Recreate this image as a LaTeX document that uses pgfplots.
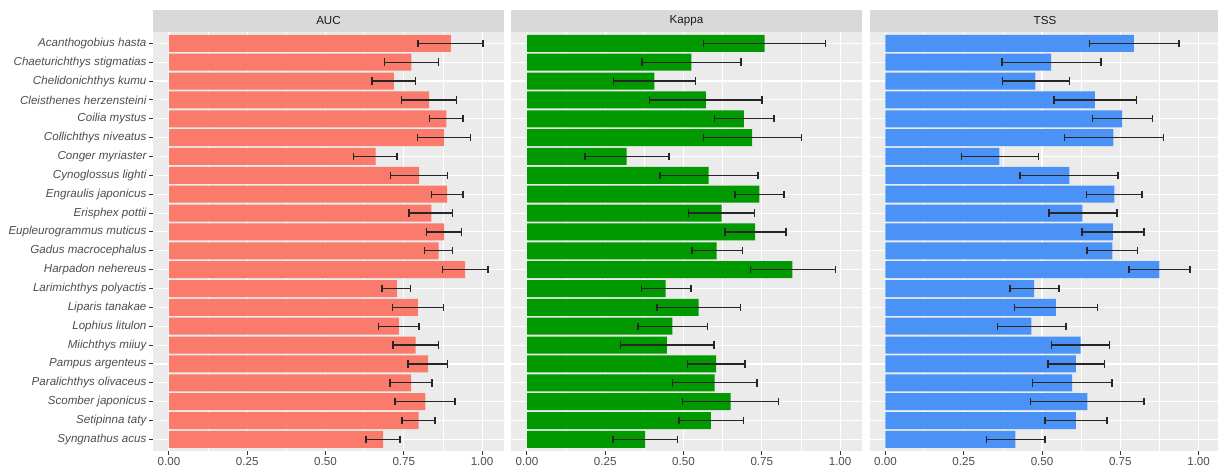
\documentclass[border=0pt]{standalone}
\usepackage{pgfplots}
\pgfplotsset{compat=1.18}
\usepackage{pgfplotstable}
\usepackage{fontspec}
\setmainfont{Liberation Sans}

\definecolor{panelbg}{HTML}{EBEBEB}
\definecolor{stripbg}{HTML}{D9D9D9}
\definecolor{gray30}{HTML}{4D4D4D}
\definecolor{gray20}{HTML}{333333}
\definecolor{gray10}{HTML}{1A1A1A}
\definecolor{aucfill}{HTML}{FA7B6B}
\definecolor{kapfill}{HTML}{009900}
\definecolor{tssfill}{HTML}{4A92F5}
\newcommand{\lbl}{\fontsize{11.6}{13.9}\selectfont}

% idx = species (1 = top), val = mean score, lo/hi = error bar ends
\pgfplotstableread{
idx val lo hi
1 0.900 0.795 1.003
2 0.774 0.689 0.861
3 0.718 0.648 0.788
4 0.831 0.743 0.919
5 0.886 0.832 0.939
6 0.878 0.793 0.963
7 0.660 0.590 0.728
8 0.799 0.707 0.890
9 0.888 0.838 0.939
10 0.838 0.767 0.906
11 0.879 0.822 0.934
12 0.861 0.816 0.906
13 0.946 0.873 1.019
14 0.728 0.681 0.771
15 0.795 0.714 0.877
16 0.734 0.669 0.798
17 0.788 0.716 0.861
18 0.828 0.764 0.890
19 0.773 0.706 0.840
20 0.819 0.722 0.914
21 0.797 0.745 0.849
22 0.684 0.630 0.738
}\auctab

\pgfplotstableread{
idx val lo hi
1 0.759 0.564 0.954
2 0.525 0.367 0.683
3 0.407 0.276 0.539
4 0.571 0.391 0.751
5 0.693 0.599 0.789
6 0.719 0.563 0.877
7 0.318 0.185 0.453
8 0.580 0.425 0.738
9 0.742 0.664 0.821
10 0.622 0.516 0.727
11 0.729 0.633 0.827
12 0.606 0.527 0.688
13 0.848 0.714 0.985
14 0.443 0.365 0.524
15 0.548 0.416 0.682
16 0.464 0.355 0.576
17 0.447 0.299 0.597
18 0.604 0.512 0.696
19 0.599 0.465 0.734
20 0.650 0.497 0.803
21 0.587 0.485 0.691
22 0.377 0.274 0.481
}\kaptab

\pgfplotstableread{
idx val lo hi
1 0.793 0.652 0.937
2 0.529 0.372 0.689
3 0.479 0.374 0.587
4 0.669 0.538 0.801
5 0.756 0.661 0.852
6 0.728 0.571 0.888
7 0.364 0.242 0.489
8 0.587 0.430 0.743
9 0.731 0.642 0.819
10 0.629 0.523 0.739
11 0.726 0.628 0.826
12 0.725 0.644 0.805
13 0.875 0.777 0.973
14 0.475 0.397 0.554
15 0.544 0.412 0.677
16 0.466 0.358 0.576
17 0.623 0.531 0.716
18 0.608 0.519 0.700
19 0.596 0.470 0.724
20 0.645 0.463 0.826
21 0.608 0.510 0.707
22 0.415 0.323 0.510
}\tsstab

\pgfplotsset{
  panel/.style={
    scale only axis, width=351pt, height=418.7pt,
    xmin=-0.051, xmax=1.070, ymin=0.4, ymax=22.6, y dir=reverse,
    axis background/.style={fill=panelbg},
    axis line style={draw=none},
    xtick={0,0.25,0.5,0.75,1},
    xticklabels={0.00,0.25,0.50,0.75,1.00},
    minor x tick num=1,
    ytick={1,...,22},
    grid=both,
    major grid style={white, line width=1.1pt},
    minor grid style={white, line width=0.55pt},
    tick align=outside, tick pos=left,
    major tick length=4pt, minor tick length=0pt,
    tick style={gray20, line width=1pt},
    ticklabel style={font=\lbl, text=gray30},
    xticklabel style={yshift=1pt},
    yticklabel style={font=\lbl\itshape, xshift=1pt},
    every axis title/.style={at={(0.5,1)}, anchor=south, fill=stripbg,
      minimum width=351pt, minimum height=22pt, inner sep=0pt,
      font=\lbl, text=gray10},
  },
  scorebars/.style={
    xbar, bar width=17pt, fill=#1, draw=none,
    error bars/.cd, x dir=both, x explicit, error mark=|,
    error bar style={line width=1.25pt, black!85},
    error mark options={line width=1.5pt, black!85, mark size=3.7pt},
  },
}

\begin{document}
\begin{tikzpicture}
\path[use as bounding box] (0,0) rectangle (1218pt,472pt);

\begin{axis}[panel, at={(153pt,21.3pt)}, anchor=south west, title={AUC},
  yticklabels={Acanthogobius hasta, Chaeturichthys stigmatias,
    Chelidonichthys kumu, Cleisthenes herzensteini, Coilia mystus,
    Collichthys niveatus, Conger myriaster, Cynoglossus lighti,
    Engraulis japonicus, Erisphex pottii, Eupleurogrammus muticus,
    Gadus macrocephalus, Harpadon nehereus, Larimichthys polyactis,
    Liparis tanakae, Lophius litulon, Miichthys miiuy, Pampus argenteus,
    Paralichthys olivaceus, Scomber japonicus, Setipinna taty,
    Syngnathus acus}]
\addplot[scorebars=aucfill] table[x=val, y=idx,
  x error plus expr=\thisrow{hi}-\thisrow{val},
  x error minus expr=\thisrow{val}-\thisrow{lo}] {\auctab};
\end{axis}

\begin{axis}[panel, at={(511pt,21.3pt)}, anchor=south west, title={Kappa},
  yticklabels={}, y tick style={draw=none}]
\addplot[scorebars=kapfill] table[x=val, y=idx,
  x error plus expr=\thisrow{hi}-\thisrow{val},
  x error minus expr=\thisrow{val}-\thisrow{lo}] {\kaptab};
\end{axis}

\begin{axis}[panel, at={(869.5pt,21.3pt)}, anchor=south west, title={TSS},
  yticklabels={}, y tick style={draw=none}]
\addplot[scorebars=tssfill] table[x=val, y=idx,
  x error plus expr=\thisrow{hi}-\thisrow{val},
  x error minus expr=\thisrow{val}-\thisrow{lo}] {\tsstab};
\end{axis}
\end{tikzpicture}
\end{document}
